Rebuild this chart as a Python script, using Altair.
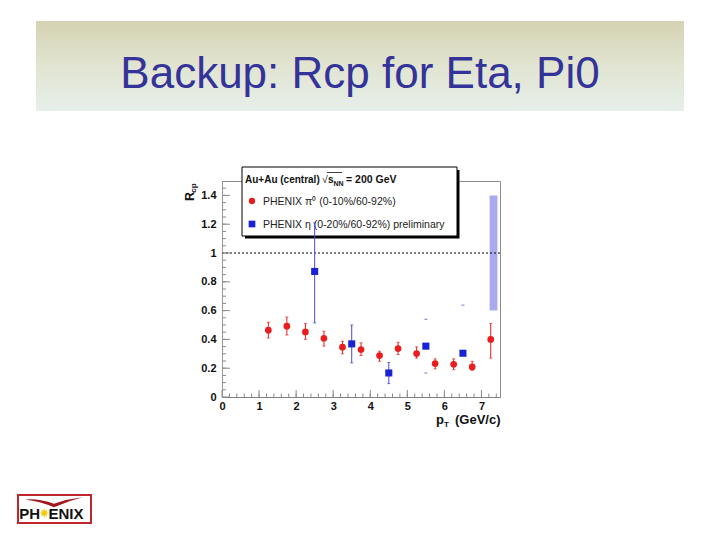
import altair as alt
import numpy as np
import pandas as pd

# ---------------- data ----------------
pi0_pt = [1.25, 1.75, 2.25, 2.75, 3.25, 3.75, 4.25, 4.75, 5.25, 5.75, 6.25, 6.75, 7.25]
pi0_rcp = [0.464, 0.492, 0.452, 0.408, 0.346, 0.330, 0.288, 0.336, 0.302, 0.232, 0.227, 0.209, 0.400]
pi0_lo = [0.410, 0.430, 0.400, 0.353, 0.300, 0.288, 0.248, 0.295, 0.270, 0.195, 0.190, 0.186, 0.270]
pi0_hi = [0.520, 0.555, 0.510, 0.457, 0.387, 0.376, 0.318, 0.380, 0.348, 0.265, 0.265, 0.248, 0.510]

eta_pt = [2.5, 3.5, 4.5, 5.5, 6.5]
eta_rcp = [0.872, 0.369, 0.167, 0.353, 0.304]
eta_lo = [0.515, 0.237, 0.093, 0.167, -0.03]
eta_hi = [1.210, 0.500, 0.240, 0.540, 0.638]

band_x = [7.22, 7.43]
band_y = [0.60, 1.40]
unity = [1.0]

x_tick_values = [0, 1, 2, 3, 4, 5, 6, 7]
y_tick_values = [0, 0.2, 0.4, 0.6, 0.8, 1.0, 1.2, 1.4]

title_text = "Backup: Rcp for Eta, Pi0"
legend_title = "Au+Au (central)"
legend_pi0 = "PHENIX  π⁰ (0-10%/60-92%)"
legend_eta = "PHENIX  η (0-20%/60-92%) preliminary"

# ---------------- layout ----------------
W, H = 278, 216          # plot area
X0, Y0 = 222, 181        # screen position of plot origin


def px(sx):
    return sx - X0


def py(sy):
    return sy - Y0


FONT = "Liberation Sans"
RED = "#e81e1e"
BLUE = "#1a22d6"

pi0 = pd.DataFrame({"pt": pi0_pt, "rcp": pi0_rcp, "lo": pi0_lo, "hi": pi0_hi})
eta = pd.DataFrame({"pt": eta_pt, "rcp": eta_rcp, "lo": eta_lo, "hi": eta_hi})
ONE = pd.DataFrame({"k": [0]})

xs = alt.Scale(domain=[0, 7.5], nice=False, zero=False)
ys = alt.Scale(domain=[0, 1.5], nice=False, zero=False)
xaxis = alt.Axis(values=x_tick_values, format="d", ticks=False, grid=False,
                 labelFont=FONT, labelFontWeight="bold", labelFontSize=11,
                 labelColor="#111111", labelPadding=3, domainColor="#808080",
                 labelFlush=False, labelOverlap=False, title=None)
yaxis = alt.Axis(values=y_tick_values, format="~g", ticks=False, grid=False,
                 labelFont=FONT, labelFontWeight="bold", labelFontSize=11,
                 labelColor="#111111", labelPadding=6, domainColor="#9a9a9a",
                 labelFlush=False, labelOverlap=False, title=None)


def X(f):
    return alt.X(f, type="quantitative", scale=xs, axis=xaxis)


def Y(f):
    return alt.Y(f, type="quantitative", scale=ys, axis=yaxis)


def label(text, sx, sy, size=11, weight="normal", align="left",
          baseline="middle", color="#222222", angle=0, font=FONT):
    kw = dict(text=text, align=align, baseline=baseline, fontSize=size,
              fontWeight=weight, color=color, font=font)
    if angle:
        kw["angle"] = angle
    return alt.Chart(ONE).mark_text(**kw).encode(
        x=alt.value(px(sx)), y=alt.value(py(sy)))


# ---------------- plot ----------------
band = alt.Chart(pd.DataFrame({"x1": [band_x[0]], "x2": [band_x[1]],
                               "y1": [band_y[0]], "y2": [band_y[1]]})).mark_rect(
    color="#a9a9ee").encode(x=X("x1"), x2="x2", y=Y("y1"), y2="y2")

unity_line = alt.Chart(pd.DataFrame({"y": unity})).mark_rule(
    color="black", strokeDash=[2, 2], strokeWidth=1).encode(
    y=Y("y"), x=alt.value(0), x2=alt.value(W))

y_major = pd.DataFrame({"v": y_tick_values})
y_minor = pd.DataFrame({"v": np.round(np.arange(0.05, 1.5, 0.05), 2)})
x_major = pd.DataFrame({"v": x_tick_values})
x_minor = pd.DataFrame({"v": np.round(np.arange(0.2, 7.45, 0.2), 2)})

tick_col = "#8a8a8a"
ymaj = alt.Chart(y_major).mark_rule(color=tick_col).encode(
    y=Y("v"), x=alt.value(0), x2=alt.value(8))
ymin = alt.Chart(y_minor).mark_rule(color=tick_col).encode(
    y=Y("v"), x=alt.value(0), x2=alt.value(4))
xmaj = alt.Chart(x_major).mark_rule(color=tick_col).encode(
    x=X("v"), y=alt.value(H), y2=alt.value(H - 7))
xmin = alt.Chart(x_minor).mark_rule(color=tick_col).encode(
    x=X("v"), y=alt.value(H), y2=alt.value(H - 3.5))

pi0_err = alt.Chart(pi0).mark_rule(color=RED, strokeWidth=1).encode(
    x=X("pt"), y=Y("lo"), y2="hi")
pi0_cap_lo = alt.Chart(pi0).mark_tick(color=RED, orient="horizontal", size=3,
                                      thickness=1).encode(x=X("pt"), y=Y("lo"))
pi0_cap_hi = alt.Chart(pi0).mark_tick(color=RED, orient="horizontal", size=3,
                                      thickness=1).encode(x=X("pt"), y=Y("hi"))
pi0_pts = alt.Chart(pi0).mark_point(shape="circle", filled=True, size=45,
                                    opacity=1, color=RED).encode(x=X("pt"), y=Y("rcp"))

eta_err = alt.Chart(eta).transform_filter(alt.datum.pt < 5).mark_rule(
    color="#4a4ad8", strokeWidth=1).encode(x=X("pt"), y=Y("lo"), y2="hi")
eta_cap_lo = alt.Chart(eta).transform_filter(alt.datum.lo > 0).mark_tick(
    color="#3a3ac8", orient="horizontal", size=3, thickness=1).encode(x=X("pt"), y=Y("lo"))
eta_cap_hi = alt.Chart(eta).mark_tick(color="#3a3ac8", orient="horizontal", size=3,
                                      thickness=1).encode(x=X("pt"), y=Y("hi"))
eta_pts = alt.Chart(eta).mark_point(shape="square", filled=True, size=50,
                                    opacity=1, color=BLUE).encode(x=X("pt"), y=Y("rcp"))

# ---------------- legend box ----------------
leg_shadow = alt.Chart(ONE).mark_rect(fill="black").encode(
    x=alt.value(px(245)), x2=alt.value(px(459.5)),
    y=alt.value(py(170)), y2=alt.value(py(238.5)))
leg_box = alt.Chart(ONE).mark_rect(fill="white", stroke="black", strokeWidth=1).encode(
    x=alt.value(px(242)), x2=alt.value(px(457)),
    y=alt.value(py(167)), y2=alt.value(py(236)))
leg_t1 = label(legend_title, 245, 179.5, size=10, weight="bold", color="#111111")
leg_t2 = label("√", 322, 179.5, size=10.5, weight="normal", color="#111111")
leg_t3 = label("s", 328, 179.5, size=10, weight="bold", color="#111111")
leg_t3b = alt.Chart(ONE).mark_rule(color="#111111", strokeWidth=0.8).encode(
    x=alt.value(px(327)), x2=alt.value(px(342)), y=alt.value(py(172.5)))
leg_t4 = label("NN", 333.5, 183.5, size=7, weight="bold", color="#111111")
leg_t5 = label("= 200 GeV", 346, 179.5, size=10.5, weight="bold", color="#111111")
leg_dot = alt.Chart(ONE).mark_point(shape="circle", filled=True, size=40, opacity=1,
                                    color=RED).encode(x=alt.value(px(252)), y=alt.value(py(201)))
leg_sq = alt.Chart(ONE).mark_point(shape="square", filled=True, size=45, opacity=1,
                                   color=BLUE).encode(x=alt.value(px(252)), y=alt.value(py(224)))
leg_l1 = label(legend_pi0, 263, 201.5, size=10.5)
leg_l2 = label(legend_eta, 263, 224.5, size=10.5)

# ---------------- axis titles ----------------
r_main = label("R", 190, 196.5, size=12.5, weight="bold", align="center",
               color="#111111", angle=270)
r_sub = label("cp", 193.5, 188, size=8, weight="bold", align="center",
              color="#111111", angle=270)
p_main = label("p", 436, 424, size=13, weight="bold", baseline="alphabetic",
               color="#111111")
p_sub = label("T", 444, 427, size=8, weight="bold", baseline="alphabetic",
              color="#111111")
p_unit = label("(GeV/c)", 455, 424, size=13, weight="bold", baseline="alphabetic",
               color="#111111")

# ---------------- slide decoration ----------------
banner = alt.Chart(ONE).mark_rect(
    fill={"gradient": "linear", "x1": 0, "y1": 0, "x2": 0, "y2": 1,
          "stops": [{"offset": 0, "color": "#d5d3b3"},
                    {"offset": 0.5, "color": "#e1e4d1"},
                    {"offset": 1, "color": "#e6efea"}]}
).encode(x=alt.value(px(36)), x2=alt.value(px(684)),
         y=alt.value(py(21)), y2=alt.value(py(111)))

title = label(title_text, 360, 88, size=44, align="center",
              baseline="alphabetic", color="#333399")

# sun-burst outline for the logo (a glyph shape, not data)
_pts = []
for i in range(16):
    r = 1.0 if i % 2 == 0 else 0.42
    a = np.pi * i / 8
    _pts.append(f"{r * np.cos(a):.3f} {r * np.sin(a):.3f}")
SUN_PATH = "M " + " L ".join(_pts) + " Z"

logo_box = alt.Chart(ONE).mark_rect(fill="white", stroke="#c0272d", strokeWidth=2).encode(
    x=alt.value(px(18)), x2=alt.value(px(91)),
    y=alt.value(py(495)), y2=alt.value(py(523)))
logo_ph = label("PH", 40, 518.5, size=15, weight="bold", align="right",
                baseline="alphabetic", color="#111111")
logo_enix = label("ENIX", 48.5, 518.5, size=15, weight="bold", align="left",
                  baseline="alphabetic", color="#111111")
logo_sun = alt.Chart(ONE).mark_point(shape=SUN_PATH, filled=True, color="#f2c800",
                                     size=110, opacity=1).encode(
    x=alt.value(px(44.2)), y=alt.value(py(513)))
logo_bird = alt.Chart(ONE).mark_point(
    shape="M -1 -0.12 Q -0.5 -0.06 0 0.15 Q 0.5 -0.08 1 -0.2 Q 0.5 -0.15 0 0.03 Q -0.5 -0.16 -1 -0.12 Z",
    filled=True, color="#a3161c", size=3300, opacity=1).encode(
    x=alt.value(px(54)), y=alt.value(py(503)))

chart = alt.layer(
    band, unity_line, ymaj, ymin, xmaj, xmin,
    pi0_err, pi0_cap_lo, pi0_cap_hi, pi0_pts,
    leg_shadow, leg_box, leg_t1, leg_t2, leg_t3, leg_t3b, leg_t4, leg_t5,
    leg_dot, leg_sq, leg_l1, leg_l2,
    eta_err, eta_cap_lo, eta_cap_hi, eta_pts,
    r_main, r_sub, p_main, p_sub, p_unit,
    banner, title, logo_box, logo_bird, logo_ph, logo_enix, logo_sun,
).properties(
    width=W, height=H,
    autosize=alt.AutoSizeParams(type="none"),
    padding={"left": X0 - 8, "top": Y0 - 8, "right": 200, "bottom": 134},
    background="white",
).configure_view(stroke="#8c8c8c", strokeWidth=1)

chart.save("out.html", embed_options={"renderer": "svg", "actions": False})
